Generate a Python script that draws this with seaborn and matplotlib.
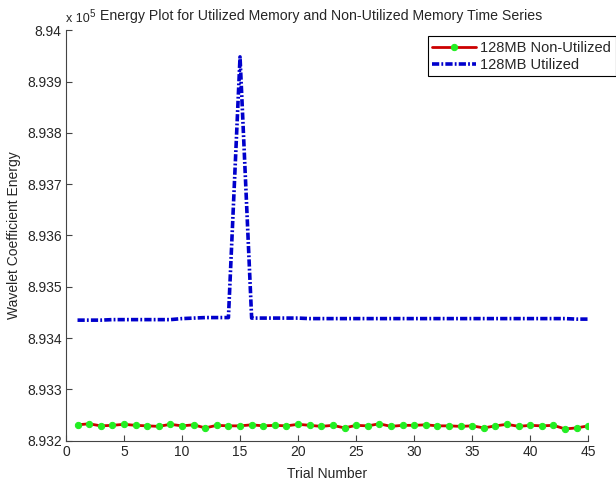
import numpy as np
import pandas as pd
import matplotlib
matplotlib.use("Agg")
import matplotlib.pyplot as plt
import seaborn as sns

# Trial numbers and energy values
trials = list(range(1, 46))
non_utilized = [
    893231, 893233, 893229, 893230, 893232, 893230, 893229, 893228, 893232, 893229,
    893231, 893225, 893230, 893229, 893229, 893231, 893229, 893230, 893229, 893232,
    893230, 893228, 893230, 893225, 893230, 893229, 893233, 893228, 893230, 893230,
    893231, 893229, 893229, 893228, 893229, 893225, 893229, 893232, 893228, 893230,
    893229, 893230, 893223, 893225, 893229,
]
utilized = [
    893435, 893435, 893435, 893436, 893436, 893436, 893436, 893436, 893436, 893438,
    893439, 893440, 893440, 893440, 893948, 893439, 893439, 893439, 893439, 893439,
    893438, 893438, 893438, 893438, 893438, 893438, 893438, 893438, 893438, 893438,
    893438, 893438, 893438, 893438, 893438, 893438, 893438, 893438, 893438, 893438,
    893438, 893438, 893438, 893437, 893437,
]

df = pd.DataFrame({"trial": trials, "non": non_utilized, "util": utilized})

sns.set_style("ticks")
plt.rcParams['font.family'] = ['Liberation Sans', 'DejaVu Sans']

fig = plt.figure(figsize=(6.16, 4.87), dpi=100)
ax = fig.add_axes([0.107, 0.095, 0.848, 0.843])

sns.lineplot(data=df, x="trial", y="non", ax=ax, color="#cc0000", linewidth=2,
             marker="o", markersize=4.5, markerfacecolor="#22ee22", markeredgecolor="#22ee22",
             label="128MB Non-Utilized")
sns.lineplot(data=df, x="trial", y="util", ax=ax, color="#0000cc", linewidth=2.6,
             dashes=False, label="128MB Utilized")
ax.lines[-1].set_dashes((2, 0.6, 0.5, 0.6))

ax.set_xlim(0, 45)
ax.set_ylim(893200, 894000)
ax.set_xticks(np.arange(0, 46, 5))
yt = np.arange(893200, 894001, 100)
ax.set_yticks(yt)
ax.set_yticklabels([f"{v / 1e5:g}" for v in yt])
ax.tick_params(direction="in", labelsize=10, length=4, color="#444444", pad=3)
for s in ["top", "right"]:
    ax.spines[s].set_visible(False)
for s in ["left", "bottom"]:
    ax.spines[s].set_color("#444444")

ax.set_xlabel("Trial Number", fontsize=10, labelpad=6)
ax.set_ylabel("Wavelet Coefficient Energy", fontsize=10, labelpad=4)
ax.set_title("Energy Plot for Utilized Memory and Non-Utilized Memory Time Series",
             fontsize=10.2, pad=7, x=0.489)
ax.text(0.0, 1.012, "x 10", transform=ax.transAxes, fontsize=9, va="bottom")
ax.text(0.045, 1.028, "5", transform=ax.transAxes, fontsize=7, va="bottom")

leg = ax.legend(loc="upper left", bbox_to_anchor=(0.693, 0.985), fontsize=10.5,
                frameon=True, fancybox=False, edgecolor="black", framealpha=1,
                handlelength=3, borderaxespad=0, borderpad=0.3, labelspacing=0.2,
                handletextpad=0.3)
leg.get_frame().set_linewidth(0.8)
leg.get_lines()[1].set_dashes((2, 0.6, 0.5, 0.6))

fig.savefig("out.png", dpi=100)
